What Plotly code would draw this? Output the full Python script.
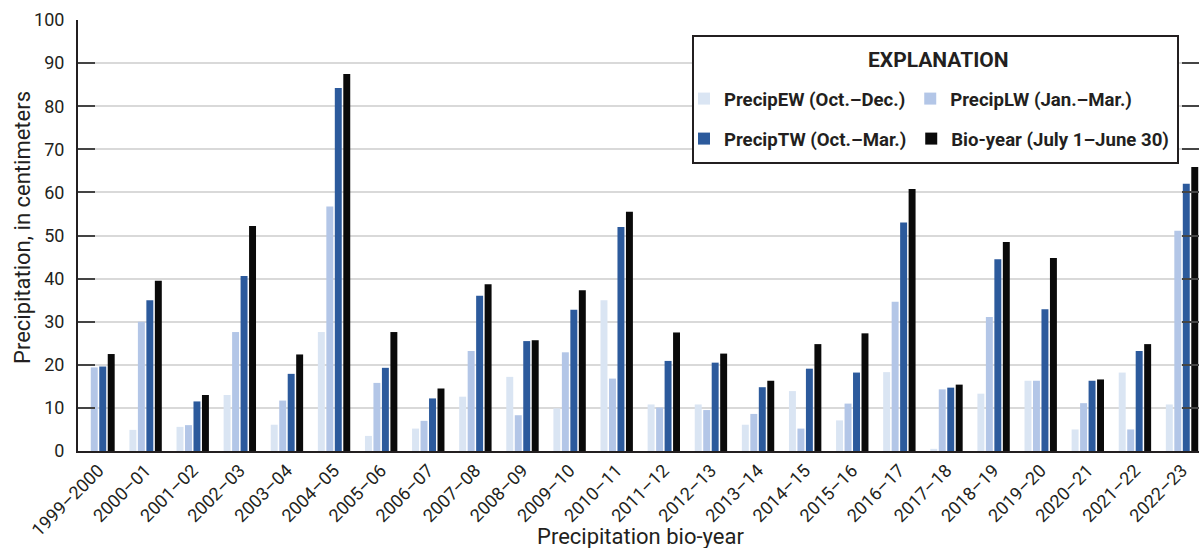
import plotly.graph_objects as go

years = ["1999–2000", "2000–01", "2001–02", "2002–03", "2003–04", "2004–05", "2005–06",
         "2006–07", "2007–08", "2008–09", "2009–10", "2010–11", "2011–12", "2012–13",
         "2013–14", "2014–15", "2015–16", "2016–17", "2017–18", "2018–19", "2019–20",
         "2020–21", "2021–22", "2022–23"]

precip_ew = [None, 4.9, 5.6, 13.0, 6.1, 27.6, 3.5, 5.2, 12.6, 17.2, 9.9, 35.0, 10.8, 10.8,
             6.1, 13.9, 7.1, 18.3, 0.5, 13.3, 16.3, 5.0, 18.2, 10.8]
precip_lw = [19.4, 30.0, 6.0, 27.6, 11.7, 56.7, 15.8, 7.0, 23.2, 8.3, 22.9, 16.8, 10.1, 9.5,
             8.6, 5.2, 11.0, 34.6, 14.3, 31.1, 16.3, 11.1, 5.0, 51.1]
precip_tw = [19.6, 35.0, 11.5, 40.6, 17.9, 84.2, 19.3, 12.2, 36.0, 25.5, 32.8, 52.0, 20.9, 20.5,
             14.8, 19.1, 18.2, 53.0, 14.7, 44.5, 32.9, 16.3, 23.2, 62.0]
bio_year = [22.5, 39.5, 13.0, 52.2, 22.4, 87.5, 27.6, 14.5, 38.7, 25.7, 37.3, 55.5, 27.5, 22.6,
            16.3, 24.8, 27.3, 60.8, 15.4, 48.5, 44.8, 16.6, 24.8, 65.9]

series_names = ["PrecipEW (Oct.–Dec.)", "PrecipLW (Jan.–Mar.)",
                "PrecipTW (Oct.–Mar.)", "Bio-year (July 1–June 30)"]
y_ticks = [0, 10, 20, 30, 40, 50, 60, 70, 80, 90, 100]

W, H = 1199, 548
ML, MR, MT, MB = 78, 0, 20, H - 451
PW, PH = W - ML - MR, H - MT - MB

def px_x(p):
    return (p - ML) / PW

def px_y(p):
    return (H - MB - p) / PH

FONT = "Roboto, Liberation Sans, Arial, sans-serif"
TXT = "#231f20"

colors = ["#dae5f3", "#b3c6e7", "#2c5a9c", "#0a0a0a"]
data = [precip_ew, precip_lw, precip_tw, bio_year]
legends = ["legend", "legend", "legend2", "legend2"]

fig = go.Figure()
for name, vals, col, lg in zip(series_names, data, colors, legends):
    fig.add_trace(go.Bar(x=years, y=vals, name=name, marker=dict(color=col, line=dict(width=0)),
                         legend=lg))

leg_common = dict(orientation="h", xanchor="left", yanchor="middle", bgcolor="rgba(0,0,0,0)",
                  borderwidth=0,
                  font=dict(family=FONT, size=18.6, color=TXT, weight="bold"),
                  itemclick=False, itemdoubleclick=False, tracegroupgap=0)

fig.update_layout(
    width=W, height=H,
    margin=dict(l=ML, r=MR, t=MT, b=MB, pad=0, autoexpand=False),
    paper_bgcolor="white", plot_bgcolor="white",
    barmode="group", bargap=0.28, bargroupgap=0.18,
    font=dict(family=FONT, color=TXT, size=18),
    legend=dict(x=px_x(684), y=px_y(99), **leg_common),
    legend2=dict(x=px_x(684), y=px_y(139), **leg_common),
    xaxis=dict(
        type="category", range=[-0.435, 23.36], automargin=False,
        tickangle=-45, tickfont=dict(family=FONT, size=18, color=TXT),
        showline=True, linecolor="#231f20", linewidth=2,
        ticks="", showgrid=False,
    ),
    yaxis=dict(
        range=[0, 100], tickvals=y_ticks, ticktext=[str(v) for v in y_ticks], automargin=False,
        tickfont=dict(family=FONT, size=18, color=TXT), ticklabelstandoff=8,
        showline=True, linecolor="#231f20", linewidth=2, mirror="ticks",
        ticks="inside", ticklen=17, tickwidth=2, tickcolor="#444444",
        showgrid=True, gridcolor="#d9d9d9", gridwidth=2, zeroline=False,
    ),
    shapes=[dict(type="rect", xref="paper", yref="paper",
                 x0=px_x(693), x1=px_x(1178), y0=px_y(163), y1=px_y(36),
                 line=dict(color="#231f20", width=2), fillcolor="white", layer="above")],
    annotations=[
        dict(text="<b>EXPLANATION</b>", xref="paper", yref="paper",
             x=px_x(938), y=px_y(60), xanchor="center", yanchor="middle",
             showarrow=False, font=dict(family=FONT, size=21, color=TXT)),
        dict(text="Precipitation bio-year", xref="paper", yref="paper",
             x=px_x(640), y=px_y(536), xanchor="center", yanchor="middle",
             showarrow=False, font=dict(family=FONT, size=22, color=TXT)),
        dict(text="Precipitation, in centimeters", xref="paper", yref="paper",
             x=px_x(22), y=px_y(228), xanchor="center", yanchor="middle", textangle=-90,
             showarrow=False, font=dict(family=FONT, size=22, color=TXT)),
    ],
)

fig.write_html(
    "out.html",
    config={"displayModeBar": False},
    post_script="document.body.style.margin='0';document.documentElement.style.overflow='hidden';",
)
